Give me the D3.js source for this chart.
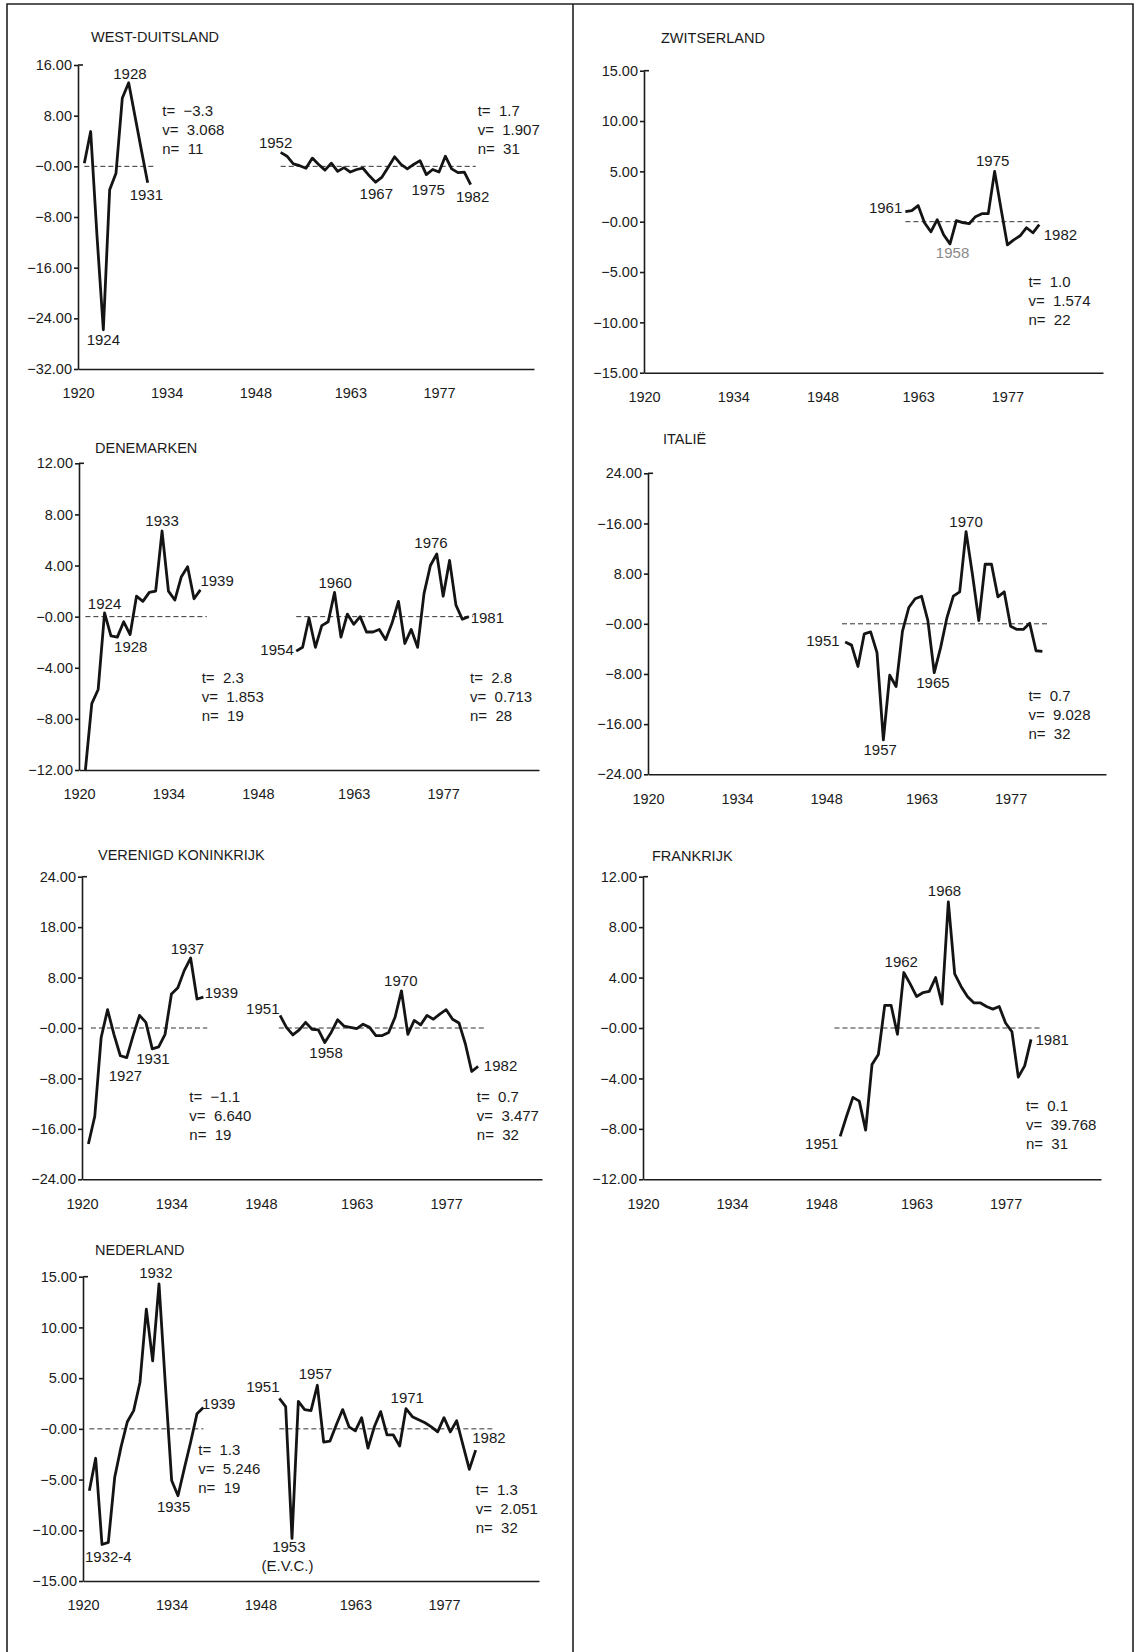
<!DOCTYPE html>
<html>
<head>
<meta charset="utf-8">
<script src="https://cdn.jsdelivr.net/npm/d3@7"></script>
<style>
  body { margin: 0; background: #fff; }
  svg { display: block; }
  text { font-family: "Liberation Sans", Arial, sans-serif; fill: #1b1b1b; white-space: pre; }
  .axis .domain, .axis line { stroke: #1b1b1b; stroke-width: 1.6; }
  .axis text { font-size: 14.5px; }
</style>
</head>
<body>
<div class="chart"></div>
<script>
// ---- data ----
const xTicks = [1920, 1934, 1948, 1963, 1977];
const yearDomain = [1920, 1992];

// West-Duitsland
const wdStart = [1921, 1952];
const wdVals1 = [0.5, 5.5, -11, -25.8, -3.7, -1.1, 10.8, 13.2, 7.9, 2.6, -2.6];
const wdVals2 = [2.2, 1.6, 0.4, 0.1, -0.3, 1.3, 0.3, -0.6, 0.5, -0.8, -0.2, -0.9, -0.5, -0.3, -1.5,
                 -2.5, -1.7, -0.1, 1.5, 0.3, -0.4, 0.3, 0.9, -1.3, -0.5, -0.9, 1.6, -0.4, -1.0, -0.9, -2.9];
const wdTicks = [16, 8, 0, -8, -16, -24, -32];
const wdTickLabels = ["16.00", "8.00", "−0.00", "−8.00", "−16.00", "−24.00", "−32.00"];

// Zwitserland
const chStart = [1961];
const chVals = [1.0, 1.1, 1.6, -0.1, -1.0, 0.2, -1.3, -2.2, 0.1, -0.1, -0.2, 0.5, 0.8, 0.8, 5.0,
                1.3, -2.3, -1.8, -1.4, -0.6, -1.1, -0.3];
const chTicks = [15, 10, 5, 0, -5, -10, -15];
const chTickLabels = ["15.00", "10.00", "5.00", "−0.00", "−5.00", "−10.00", "−15.00"];

// Denemarken
const dkStart = [1921, 1954];
const dkVals1 = [-12.0, -6.8, -5.7, 0.3, -1.5, -1.6, -0.4, -1.4, 1.6, 1.2, 1.9, 2.0, 6.7, 2.0, 1.3,
                 3.1, 3.9, 1.4, 2.1];
const dkVals2 = [-2.7, -2.4, -0.1, -2.4, -0.7, -0.4, 1.9, -1.6, 0.2, -0.6, 0, -1.2, -1.2, -1.0,
                 -1.8, -0.5, 1.2, -2.1, -1.0, -2.4, 1.8, 4.0, 4.9, 1.6, 4.4, 0.9, -0.2, 0];
const dkTicks = [12, 8, 4, 0, -4, -8, -12];
const dkTickLabels = ["12.00", "8.00", "4.00", "−0.00", "−4.00", "−8.00", "−12.00"];

// Italië
const itStart = [1951];
const itVals = [-2.9, -3.4, -6.8, -1.6, -1.3, -4.6, -18.5, -8.2, -10.0, -1.2, 2.6, 4.0, 4.4, 0.5,
                -7.8, -3.8, 1.0, 4.4, 5.1, 14.7, 7.9, 0.5, 9.5, 9.5, 4.3, 5.1, -0.4, -0.9, -0.9,
                0.1, -4.3, -4.4];
const itTicks = [24, 16, 8, 0, -8, -16, -24];
const itTickLabels = ["24.00", "−16.00", "8.00", "−0.00", "−8.00", "−16.00", "−24.00"];

// Verenigd Koninkrijk
const vkStart = [1921, 1951];
const vkVals1 = [-18.4, -14.0, -1.5, 2.9, -1.0, -4.4, -4.7, -1.2, 2.0, 0.9, -3.3, -3.0, -1.0, 5.4,
                 6.4, 9.1, 11.1, 4.6, 4.9];
const vkVals2 = [2.0, 0.1, -1.1, -0.3, 0.9, -0.2, -0.3, -2.3, -0.7, 1.3, 0.3, 0.1, -0.1, 0.6, 0.1,
                 -1.2, -1.2, -0.7, 1.7, 5.9, -1.0, 1.2, 0.5, 2.0, 1.4, 2.2, 2.9, 1.4, 0.8, -2.5,
                 -6.9, -6.1];
const vkTicks = [24, 16, 8, 0, -8, -16, -24];
const vkTickLabels = ["24.00", "18.00", "8.00", "−0.00", "−8.00", "−16.00", "−24.00"];

// Frankrijk
const frStart = [1951];
const frVals = [-8.6, -7.0, -5.5, -5.8, -8.1, -2.9, -2.1, 1.8, 1.8, -0.5, 4.4, 3.5, 2.5, 2.8, 2.9,
                4.0, 1.9, 10.0, 4.3, 3.3, 2.5, 2.0, 2.0, 1.7, 1.5, 1.7, 0.4, -0.3, -3.9, -3.0, -0.9];
const frTicks = [12, 8, 4, 0, -4, -8, -12];
const frTickLabels = ["12.00", "8.00", "4.00", "−0.00", "−4.00", "−8.00", "−12.00"];

// Nederland
const nlStart = [1921, 1951];
const nlVals1 = [-6.1, -2.9, -11.4, -11.2, -4.8, -1.8, 0.7, 1.8, 4.6, 11.8, 6.7, 14.3, 4.4, -5.1,
                 -6.6, -3.9, -1.3, 1.5, 2.1];
const nlVals2 = [3.0, 2.2, -10.8, 2.7, 1.9, 1.8, 4.3, -1.3, -1.2, 0.4, 1.9, 0.2, -0.2, 1.1, -1.9,
                 0.2, 1.7, -0.6, -0.6, -1.7, 2.0, 1.2, 0.9, 0.6, 0.2, -0.3, 1.1, -0.3, 0.8, -1.6,
                 -4.0, -2.1];
const nlTicks = [15, 10, 5, 0, -5, -10, -15];
const nlTickLabels = ["15.00", "10.00", "5.00", "−0.00", "−5.00", "−10.00", "−15.00"];

// ---- panel definitions ----
const panels = [
  { title: "WEST-DUITSLAND", ticks: wdTicks, tickLabels: wdTickLabels,
    series: [[wdStart[0], wdVals1], [wdStart[1], wdVals2]],
    zero: [[1921, 1932.3], [1952, 1982.8]],
    stats: [["t=  −3.3", "v=  3.068", "n=  11", 1933.3, 8.0], ["t=  1.7", "v=  1.907", "n=  31", 1983.1, 8.0]],
    labels: [["1928", 1928.2, 13.8, "middle"], ["1924", 1924.0, -28.2, "middle"], ["1931", 1930.8, -5.3, "middle"],
             ["1952", 1951.2, 2.9, "middle"], ["1967", 1967.1, -5.1, "middle"], ["1975", 1975.3, -4.5, "middle"],
             ["1982", 1982.3, -5.6, "middle"]] },
  { title: "ZWITSERLAND", ticks: chTicks, tickLabels: chTickLabels,
    series: [[chStart[0], chVals]],
    zero: [[1961, 1982.3]],
    stats: [["t=  1.0", "v=  1.574", "n=  22", 1980.3, -6.45]],
    labels: [["1961", 1957.9, 0.83, "middle"], ["1975", 1974.7, 5.56, "middle"], ["1958", 1968.4, -3.63, "middle", "#8a8a8a"],
             ["1982", 1982.7, -1.82, "start"]] },
  { title: "DENEMARKEN", ticks: dkTicks, tickLabels: dkTickLabels,
    series: [[dkStart[0], dkVals1], [dkStart[1], dkVals2]],
    zero: [[1921, 1940], [1954, 1981.7]],
    stats: [["t=  2.3", "v=  1.853", "n=  19", 1939.2, -5.2], ["t=  2.8", "v=  0.713", "n=  28", 1981.2, -5.2]],
    labels: [["1924", 1924.0, 0.58, "middle"], ["1928", 1928.1, -2.74, "middle"], ["1933", 1933.0, 7.1, "middle"],
             ["1939", 1939.0, 2.4, "start"], ["1954", 1951.0, -3.0, "middle"], ["1960", 1960.1, 2.22, "middle"],
             ["1976", 1975.1, 5.35, "middle"], ["1981", 1981.3, -0.47, "start"]] },
  { title: "ITALIË", ticks: itTicks, tickLabels: itTickLabels,
    series: [[itStart[0], itVals]],
    zero: [[1950.5, 1982.8]],
    stats: [["t=  0.7", "v=  9.028", "n=  32", 1979.8, -12.3]],
    labels: [["1951", 1947.5, -3.56, "middle"], ["1957", 1956.5, -21.0, "middle"], ["1965", 1964.8, -10.2, "middle"],
             ["1970", 1970.0, 15.4, "middle"]] },
  { title: "VERENIGD KONINKRIJK", ticks: vkTicks, tickLabels: vkTickLabels,
    series: [[vkStart[0], vkVals1], [vkStart[1], vkVals2]],
    zero: [[1921.4, 1939.6], [1950.8, 1982.9]],
    stats: [["t=  −1.1", "v=  6.640", "n=  19", 1936.8, -11.8], ["t=  0.7", "v=  3.477", "n=  32", 1981.8, -11.8]],
    labels: [["1937", 1936.5, 11.7, "middle"], ["1939", 1939.2, 4.75, "start"], ["1927", 1926.8, -8.35, "middle"],
             ["1931", 1931.1, -5.7, "middle"], ["1951", 1948.3, 2.2, "middle"], ["1958", 1958.2, -4.8, "middle"],
             ["1970", 1969.9, 6.7, "middle"], ["1982", 1982.9, -6.77, "start"]] },
  { title: "FRANKRIJK", ticks: frTicks, tickLabels: frTickLabels,
    series: [[frStart[0], frVals]],
    zero: [[1950.1, 1982.5]],
    stats: [["t=  0.1", "v=  39.768", "n=  31", 1980.2, -6.56]],
    labels: [["1951", 1948.1, -9.6, "middle"], ["1962", 1960.6, 4.8, "middle"], ["1968", 1967.4, 10.44, "middle"],
             ["1981", 1981.7, -1.33, "start"]] },
  { title: "NEDERLAND", ticks: nlTicks, tickLabels: nlTickLabels,
    series: [[nlStart[0], nlVals1], [nlStart[1], nlVals2]],
    zero: [[1921, 1939], [1951, 1985]],
    stats: [["t=  1.3", "v=  5.246", "n=  19", 1938.2, -2.53], ["t=  1.3", "v=  2.051", "n=  32", 1982.0, -6.5]],
    labels: [["1932", 1931.5, 14.86, "middle"], ["1932-4", 1924.0, -13.1, "middle"], ["1935", 1934.3, -8.2, "middle"],
             ["1939", 1938.8, 1.97, "start"], ["1951", 1948.4, 3.6, "middle"], ["1957", 1956.7, 4.93, "middle"],
             ["1953", 1952.5, -12.1, "middle"], ["(E.V.C.)", 1952.3, -14.0, "middle"], ["1971", 1971.2, 2.56, "middle"],
             ["1982", 1984.1, -1.38, "middle"]] }
];

// where each panel sits on the page
const layout = [
  { axisX: 78,  axisEnd: 534,  yTop: 65,    yBot: 369,    titleX: 91,  titleY: 42 },
  { axisX: 644, axisEnd: 1103, yTop: 70.7,  yBot: 372.7,  titleX: 661, titleY: 43 },
  { axisX: 79,  axisEnd: 539,  yTop: 463.3, yBot: 770,    titleX: 95,  titleY: 453 },
  { axisX: 648, axisEnd: 1106, yTop: 473.3, yBot: 774.3,  titleX: 663, titleY: 444 },
  { axisX: 82,  axisEnd: 542,  yTop: 876.7, yBot: 1179.3, titleX: 98,  titleY: 860 },
  { axisX: 643, axisEnd: 1101, yTop: 876.7, yBot: 1179.3, titleX: 652, titleY: 861 },
  { axisX: 83,  axisEnd: 539,  yTop: 1276.7, yBot: 1581,  titleX: 95,  titleY: 1255 }
];

const width = 1139, height = 1652;

const svg = d3.select(".chart").append("svg")
    .attr("width", width)
    .attr("height", height);

// page frame with the centre divider
svg.append("path")
    .attr("d", "M7,1660 V4 H1133 V1660 M573,4 V1660")
    .attr("fill", "none")
    .attr("stroke", "#222")
    .attr("stroke-width", 1.6);

function drawPanel(p, L) {
  const g = svg.append("g");

  const x = d3.scaleLinear().domain(yearDomain).range([L.axisX, L.axisEnd]);
  const y = d3.scaleLinear()
      .domain([p.ticks[p.ticks.length - 1], p.ticks[0]])
      .range([L.yBot, L.yTop]);

  g.append("text")
      .attr("x", L.titleX)
      .attr("y", L.titleY)
      .attr("font-size", 14.5)
      .text(p.title);

  // axes
  const yAxis = g.append("g")
      .attr("class", "axis")
      .attr("transform", `translate(${L.axisX},0)`)
      .call(d3.axisLeft(y)
        .tickValues(p.ticks)
        .tickFormat((d, i) => p.tickLabels[i])
        .tickSizeInner(4)
        .tickSizeOuter(0)
        .tickPadding(2));
  yAxis.attr("font-family", null).attr("font-size", null);

  // the little hook at the top of the y axis
  g.append("line")
      .attr("x1", L.axisX).attr("x2", L.axisX + 5)
      .attr("y1", y(p.ticks[0])).attr("y2", y(p.ticks[0]))
      .attr("stroke", "#1b1b1b").attr("stroke-width", 1.6);

  const xAxis = g.append("g")
      .attr("class", "axis")
      .attr("transform", `translate(0,${L.yBot})`)
      .call(d3.axisBottom(x)
        .tickValues(xTicks)
        .tickFormat(d3.format("d"))
        .tickSize(0)
        .tickPadding(19));
  xAxis.attr("font-family", null).attr("font-size", null);
  xAxis.selectAll(".tick line").remove();

  // dashed zero lines
  g.selectAll(".zero")
    .data(p.zero)
    .enter().append("line")
      .attr("x1", d => x(d[0]))
      .attr("x2", d => x(d[1]))
      .attr("y1", y(0)).attr("y2", y(0))
      .attr("stroke", "#333")
      .attr("stroke-width", 1)
      .attr("stroke-dasharray", "5,3");

  // series
  const line = d3.line()
      .x(d => x(d[0]))
      .y(d => y(d[1]));

  g.selectAll(".series")
    .data(p.series)
    .enter().append("path")
      .attr("d", s => line(s[1].map((v, i) => [s[0] + i, v])))
      .attr("fill", "none")
      .attr("stroke", "#141414")
      .attr("stroke-width", 2.8)
      .attr("stroke-linejoin", "round");

  // year labels
  g.selectAll(".lab")
    .data(p.labels)
    .enter().append("text")
      .attr("x", d => x(d[1]))
      .attr("y", d => y(d[2]))
      .attr("text-anchor", d => d[3])
      .attr("font-size", 15)
      .style("fill", d => d[4] || null)
      .text(d => d[0]);

  // t / v / n blocks
  p.stats.forEach(s => {
    const t = g.append("text")
        .attr("x", x(s[3]))
        .attr("y", y(s[4]))
        .attr("font-size", 15);
    [s[0], s[1], s[2]].forEach((str, i) => {
      t.append("tspan")
          .attr("x", x(s[3]))
          .attr("dy", i === 0 ? 0 : 19)
          .text(str);
    });
  });
}

panels.forEach((p, i) => drawPanel(p, layout[i]));
</script>
</body>
</html>
